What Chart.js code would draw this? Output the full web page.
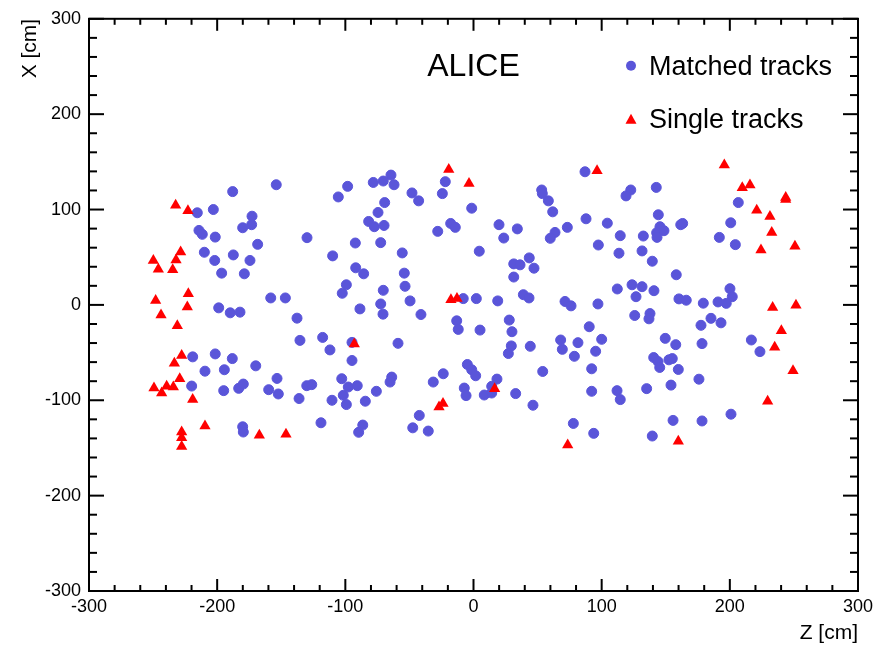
<!DOCTYPE html>
<html>
<head>
<meta charset="utf-8">
<title>ALICE tracks</title>
<script src="https://cdn.jsdelivr.net/npm/chart.js@4.4.1/dist/chart.umd.min.js"></script>
<style>
  html, body { margin: 0; padding: 0; background: #fff; }
  #wrap { width: 887px; height: 648px; }
</style>
</head>
<body>
<div id="wrap"><canvas id="c" width="887" height="648"></canvas></div>
<script>
// Matched tracks (blue dots): Z and X in cm
const matchedZ = [
  -187.9,-153.9,-215.5,-203.0,-172.8,-180.1,-173.1,-214.2,-211.6,-201.5,-168.4,-129.9,-109.9,-210.0,-187.4,-201.9,
  -174.4,-196.5,-178.8,-158.2,-146.8,-198.8,-189.8,-182.2,-137.7,-135.4,-117.7,-112.0,-219.1,-201.5,-188.2,-209.5,
  -194.4,-169.9,-153.3,-219.9,-194.9,-183.2,-179.6,-159.8,-152.3,-136.1,-130.1,-126.2,-110.4,-119.0,-180.1,-179.6,
  -98.2,-105.5,-78.2,-70.4,-64.4,-62.0,-48.0,-42.8,-22.0,-24.3,-69.3,-74.5,-81.8,-77.4,-69.8,-1.4,-17.8,-14.2,
  -27.9,19.9,23.6,34.2,-92.2,-72.4,-55.6,4.5,-91.9,-85.7,-54.0,31.4,36.3,31.4,-99.2,-102.4,-70.4,-53.4,-49.5,
  -72.4,-88.6,-8.0,2.2,18.9,
  -70.6,-41.0,-13.1,-11.9,5.1,27.9,30.0,29.5,27.2,-94.8,-94.8,-58.9,-4.8,-1.4,1.7,-102.8,-97.7,-90.7,-101.6,
  -99.2,-84.4,-75.8,-63.8,-65.1,-23.6,-31.4,-7.2,-5.8,8.4,18.3,14.2,14.2,32.9,-86.4,-89.6,-42.3,-47.4,-35.3,
  87.0,53.2,53.7,58.4,61.8,122.7,119.0,142.6,87.8,104.4,73.2,63.6,59.9,144.2,114.5,132.5,145.5,142.9,148.6,
  143.2,161.7,163.2,97.4,113.5,131.5,139.5,43.5,47.2,158.2,112.2,123.7,131.5,126.8,140.8,38.9,43.3,71.4,76.1,
  97.1,160.3,166.0,179.3,
  44.3,68.0,69.3,81.5,90.3,100.0,95.3,78.7,54.0,92.2,125.8,137.7,136.9,149.6,157.8,140.6,144.0,145.3,152.5,
  155.1,159.8,177.5,178.3,175.9,185.3,154.1,135.1,46.4,92.2,112.0,114.5,77.9,93.8,139.5,155.7,178.3,206.6,
  200.7,191.8,204.3,200.1,201.9,190.8,197.2,193.1,216.8,223.5,200.9
];
const matchedX = [
  118.8,126.0,96.6,100.0,93.0,80.9,84.1,78.1,74.0,71.1,63.5,70.5,51.4,55.2,52.4,46.6,
  46.6,33.3,32.6,7.3,7.3,-3.1,-8.3,-7.6,-13.9,-37.2,-34.1,-47.2,-54.5,-51.4,-56.3,-69.5,
  -68.0,-63.9,-77.1,-85.1,-89.9,-87.5,-83.0,-88.9,-93.4,-98.2,-84.7,-83.6,-100.0,-123.6,-127.8,-133.3,
  124.3,113.2,128.4,129.9,136.1,126.0,117.4,109.1,129.2,116.7,107.3,96.9,87.5,82.0,83.3,101.4,85.4,81.3,
  77.1,84.1,70.1,79.7,64.9,65.3,54.5,56.3,38.9,32.6,33.3,43.0,42.0,29.2,21.1,12.2,15.3,19.5,4.2,
  1.0,-4.2,6.6,6.6,4.2,
  -9.7,-10.1,-16.7,-25.7,-26.4,-15.9,-28.1,-43.0,-51.0,-39.3,-58.3,-40.3,-62.5,-68.0,-74.3,-77.4,-86.1,-84.7,-94.8,
  -104.5,-101.0,-90.6,-75.7,-80.9,-72.2,-80.9,-87.2,-95.1,-94.5,-77.8,-85.4,-92.4,-93.0,-126.0,-133.6,-115.9,-128.9,-132.3,
  139.6,120.5,116.7,109.1,97.6,120.5,114.3,123.2,90.3,85.7,81.3,76.0,69.8,94.5,72.6,72.2,82.0,75.7,77.8,
  70.8,84.1,85.4,62.8,54.2,56.6,45.8,49.3,38.5,31.6,16.7,21.1,19.1,8.6,14.9,10.7,7.3,3.6,-1.0,
  1.0,6.3,4.9,1.8,
  -43.4,-36.8,-46.6,-39.6,-22.9,-36.1,-48.6,-53.9,-69.8,-67.0,-11.1,-9.1,-14.6,-35.1,-41.7,-55.2,-59.4,-65.6,-57.6,
  -56.3,-67.7,-21.4,-40.6,-77.9,-14.1,-84.1,-87.8,-105.2,-90.6,-89.9,-99.3,-124.3,-134.7,-137.5,-121.1,-121.7,107.3,
  86.1,70.8,63.2,17.0,8.6,3.1,1.6,-18.8,-36.8,-49.0,-114.6
];

// Single tracks (red triangles)
const singleZ = [
  -232.4,-222.8,-249.8,-245.9,-228.5,-232.1,-234.7,-222.5,-248.0,-223.3,-243.8,-231.1,-227.7,-233.4,-229.2,
  -249.3,-243.3,-239.4,-234.2,-219.1,-209.5,-227.7,-227.7,-227.7,-167.1,-146.3,-19.3,-3.5,-17.6,-12.9,-93.0,
  -26.9,-23.8,16.5,96.4,73.5,159.8,195.7,209.7,215.7,243.6,243.6,221.0,231.3,232.7,224.3,250.8,233.4,251.6,
  240.2,235.0,249.3,229.5
];
const singleX = [
  104.5,98.6,46.6,37.5,55.5,47.2,36.8,11.8,4.7,-2.1,-10.7,-21.9,-53.1,-61.1,-77.4,
  -87.2,-92.4,-85.4,-86.1,-99.3,-127.1,-133.3,-139.3,-148.6,-136.8,-135.7,142.0,127.4,5.5,6.6,-40.9,
  -107.0,-103.4,-87.8,140.6,-146.9,-143.0,146.6,122.9,125.7,112.5,110.4,99.3,92.7,76.0,57.6,61.5,-2.8,-0.3,
  -27.1,-44.5,-69.1,-101.0
];

// axis ticks
const tickLabels = [-300, -200, -100, 0, 100, 200, 300];
const axisMin = -300, axisMax = 300, majorStep = 100, minorStep = 20;

const BLUE = '#5a55d9';
const RED = '#ff0000';
const FONT = "'Liberation Sans', Arial, Helvetica, sans-serif";

const toPoints = (zs, xs) => zs.map((z, i) => ({ x: z, y: xs[i] }));

// ROOT style frame with inward ticks on all four sides
const frameTicks = {
  id: 'frameTicks',
  afterDraw(chart) {
    const { ctx, chartArea: a, scales } = chart;
    const line = (x1, y1, x2, y2) => { ctx.beginPath(); ctx.moveTo(x1, y1); ctx.lineTo(x2, y2); ctx.stroke(); };
    ctx.save();
    ctx.strokeStyle = '#000';
    ctx.lineWidth = 2;
    for (let v = axisMin; v <= axisMax; v += minorStep) {
      const major = v % majorStep === 0;
      const px = scales.x.getPixelForValue(v);
      const lx = major ? 12 : 6;
      line(px, a.bottom, px, a.bottom - lx);
      line(px, a.top, px, a.top + lx);
      const py = scales.y.getPixelForValue(v);
      const ly = major ? 15 : 8;
      line(a.left, py, a.left + ly, py);
      line(a.right, py, a.right - ly, py);
    }
    ctx.strokeRect(a.left, a.top, a.right - a.left, a.bottom - a.top);
    ctx.restore();
  }
};

// "ALICE" label and the legend inside the frame
const labels = {
  id: 'labels',
  afterDraw(chart) {
    const { ctx, chartArea: a } = chart;
    ctx.save();
    ctx.fillStyle = '#000';
    ctx.textBaseline = 'alphabetic';
    ctx.font = '32px ' + FONT;
    ctx.textAlign = 'center';
    ctx.fillText('ALICE', (a.left + a.right) / 2, a.top + 61 - 4);

    const mx = a.left + 542;
    ctx.font = '27px ' + FONT;
    ctx.textAlign = 'left';
    ctx.fillText('Matched tracks', mx + 18, a.top + 56);
    ctx.fillText('Single tracks', mx + 18, a.top + 109);

    ctx.fillStyle = BLUE;
    ctx.beginPath();
    ctx.arc(mx, a.top + 47, 5, 0, Math.PI * 2);
    ctx.fill();

    ctx.fillStyle = RED;
    ctx.beginPath();
    ctx.moveTo(mx, a.top + 95);
    ctx.lineTo(mx + 5.5, a.top + 105);
    ctx.lineTo(mx - 5.5, a.top + 105);
    ctx.closePath();
    ctx.fill();
    ctx.restore();
  }
};

const ctx = document.getElementById('c');
const chart = new Chart(ctx, {
  type: 'scatter',
  data: {
    datasets: [
      {
        label: 'Single tracks',
        data: toPoints(singleZ, singleX),
        pointStyle: 'triangle',
        pointRadius: 6.5,
        backgroundColor: RED,
        borderColor: RED,
        borderWidth: 0,
        order: 0
      },
      {
        label: 'Matched tracks',
        data: toPoints(matchedZ, matchedX),
        pointStyle: 'circle',
        pointRadius: 5,
        backgroundColor: BLUE,
        borderColor: BLUE,
        borderWidth: 1,
        order: 1
      }
    ]
  },
  options: {
    responsive: false,
    animation: false,
    devicePixelRatio: 1,
    layout: { padding: { top: 15, right: 29, left: 0, bottom: 0 } },
    plugins: {
      legend: { display: false },
      tooltip: { enabled: false }
    },
    scales: {
      x: {
        type: 'linear',
        min: axisMin,
        max: axisMax,
        afterBuildTicks: s => { s.ticks = tickLabels.map(v => ({ value: v })); },
        afterFit: s => { s.height = 57; },
        ticks: { color: '#000', font: { family: FONT, size: 18 }, padding: 5, maxRotation: 0, autoSkip: false },
        grid: { display: false, drawTicks: false },
        border: { display: false },
        title: {
          display: true, text: 'Z [cm]', align: 'end', color: '#000',
          font: { family: FONT, size: 21 }, padding: { top: 0, bottom: 2 }
        }
      },
      y: {
        type: 'linear',
        min: axisMin,
        max: axisMax,
        afterBuildTicks: s => { s.ticks = tickLabels.map(v => ({ value: v })); },
        afterFit: s => { s.width = 89; },
        ticks: { color: '#000', font: { family: FONT, size: 18 }, padding: 8, autoSkip: false },
        grid: { display: false, drawTicks: false },
        border: { display: false },
        title: {
          display: true, text: 'X [cm]', align: 'end', color: '#000',
          font: { family: FONT, size: 21 }, padding: { top: 18, bottom: 0 }
        }
      }
    }
  },
  plugins: [frameTicks, labels]
});
</script>
</body>
</html>
